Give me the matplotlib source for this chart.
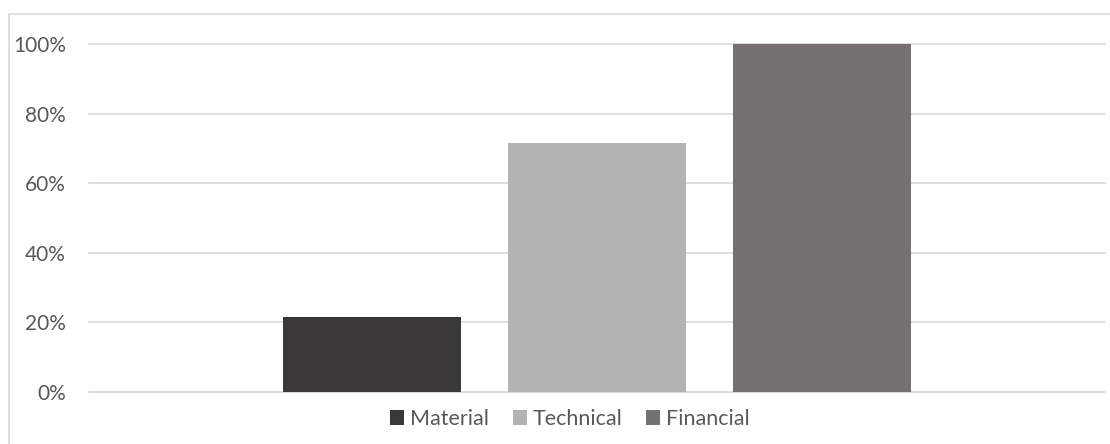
import matplotlib
matplotlib.use("Agg")
import matplotlib.pyplot as plt
from matplotlib.ticker import PercentFormatter, FixedLocator
from matplotlib.patches import Rectangle

# Series shares for the single category
series = ["Material", "Technical", "Financial"]
values = [0.214, 0.714, 1.0]
colors = ["#3A3836", "#B3B3B3", "#757170"]
yticks = [0.0, 0.2, 0.4, 0.6, 0.8, 1.0]

W, H = 1110, 444
plt.rcParams["font.family"] = ["Lato", "DejaVu Sans"]

fig = plt.figure(figsize=(W / 100, H / 100), dpi=100)
fig.patch.set_facecolor("white")

# Chart frame
fig.add_artist(Rectangle((8.5 / W, -0.1), 1.2, (H - 14) / H + 0.1,
                         transform=fig.transFigure, fill=False,
                         edgecolor="#D9D9D9", linewidth=1.2))

ax = fig.add_axes([89 / W, (H - 391.7) / H, 1016 / W, 347.7 / H])

bar_w = 0.1752
offsets = [-0.2215, 0.0, 0.2215]
for name, v, c, off in zip(series, values, colors, offsets):
    ax.bar(off, v, width=bar_w, color=c, label=name, zorder=3)

ax.set_xlim(-0.5, 0.5)
ax.set_ylim(0, 1.0)
ax.yaxis.set_major_locator(FixedLocator(yticks))
ax.yaxis.set_major_formatter(PercentFormatter(1.0, decimals=0))
ax.set_xticks([])
ax.grid(axis="y", color="#D9D9D9", linewidth=1.2, zorder=0)
ax.tick_params(axis="y", length=0, pad=16.5, labelsize=15, labelcolor="#595959")
for s in ax.spines.values():
    s.set_visible(False)
for line in ax.get_ygridlines():
    line.set_clip_on(False)

handles, labels = ax.get_legend_handles_labels()
leg = fig.legend(handles, labels, loc="center", bbox_to_anchor=(570 / W, (H - 419) / H),
                 ncol=3, frameon=False, fontsize=15.5, handlelength=0.65,
                 handleheight=0.65, handletextpad=0.28, columnspacing=1.1,
                 labelcolor="#595959")

fig.savefig("out.png", dpi=100, facecolor="white")
